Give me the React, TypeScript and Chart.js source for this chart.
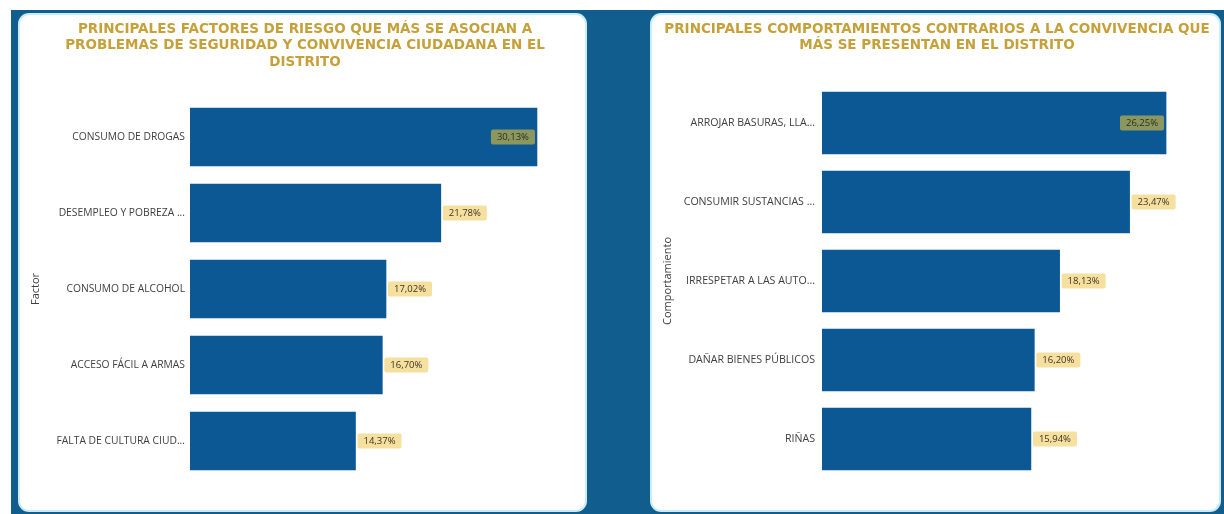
import React, { useEffect, useRef } from "react";
import { Chart, registerables } from "chart.js";

Chart.register(...registerables);

const factorLabels = [
  "CONSUMO DE DROGAS",
  "DESEMPLEO Y POBREZA ...",
  "CONSUMO DE ALCOHOL",
  "ACCESO FÁCIL A ARMAS",
  "FALTA DE CULTURA CIUD...",
];
const factorValues = [30.13, 21.78, 17.02, 16.7, 14.37];

const behaviourLabels = [
  "ARROJAR BASURAS, LLA...",
  "CONSUMIR SUSTANCIAS ...",
  "IRRESPETAR A LAS AUTO...",
  "DAÑAR BIENES PÚBLICOS",
  "RIÑAS",
];
const behaviourValues = [26.25, 23.47, 18.13, 16.2, 15.94];

const leftTitle = [
  "PRINCIPALES FACTORES DE RIESGO QUE MÁS SE ASOCIAN A",
  "PROBLEMAS DE SEGURIDAD Y CONVIVENCIA CIUDADANA EN EL",
  "DISTRITO",
];
const rightTitle = [
  "PRINCIPALES COMPORTAMIENTOS CONTRARIOS A LA CONVIVENCIA QUE",
  "MÁS SE PRESENTAN EN EL DISTRITO",
];

const BAR = "#0b5894";
const BG = "#115e8e";
const GOLD = "#c6a038";

const fmt = (v: number) => v.toFixed(2).replace(".", ",") + "%";

const labelPlugin = {
  id: "valueLabels",
  afterDatasetsDraw(chart: any) {
    const ctx = chart.ctx;
    const meta = chart.getDatasetMeta(0);
    const data = chart.data.datasets[0].data as number[];
    ctx.save();
    ctx.font = "9.5px 'Open Sans', sans-serif";
    ctx.textBaseline = "middle";
    meta.data.forEach((bar: any, i: number) => {
      const txt = fmt(data[i]);
      const w = ctx.measureText(txt).width + 12;
      const h = 15;
      let x = bar.x + 2;
      let inside = false;
      if (x + w > chart.width - 8) {
        x = bar.x - 2 - w;
        inside = true;
      }
      const y = bar.y - h / 2;
      ctx.fillStyle = inside ? "#8c9760" : "#f6e0a0";
      ctx.beginPath();
      (ctx as any).roundRect(x, y, w, h, 2);
      ctx.fill();
      ctx.fillStyle = inside ? "#2a2f1a" : "#3a3320";
      ctx.textAlign = "center";
      ctx.fillText(txt, x + w / 2, bar.y + 0.5);
    });
    ctx.restore();
  },
};

type Props = {
  labels: string[];
  values: number[];
  title: string[];
  axisTitle: string;
  max: number;
  barThickness: number;
  titleBottom: number;
  padBottom: number;
  padRight: number;
  tickSize: number;
  tickPad: number;
  width: number;
};

function BarPanel(p: Props) {
  const ref = useRef<HTMLCanvasElement>(null);
  useEffect(() => {
    const chart = new Chart(ref.current as HTMLCanvasElement, {
      type: "bar",
      data: {
        labels: p.labels,
        datasets: [
          {
            data: p.values,
            backgroundColor: BAR,
            barThickness: p.barThickness,
          },
        ],
      },
      plugins: [labelPlugin],
      options: {
        indexAxis: "y",
        animation: false,
        responsive: false,
        maintainAspectRatio: false,
        layout: { padding: { left: 8, right: p.padRight, top: 0, bottom: p.padBottom } },
        plugins: {
          legend: { display: false },
          tooltip: { enabled: false },
          title: {
            display: true,
            text: p.title,
            color: GOLD,
            font: { family: "'DejaVu Sans', Verdana, sans-serif", size: 13.5, weight: "bold", lineHeight: 16.5 / 13.5 },
            padding: { top: 6, bottom: p.titleBottom },
          },
        },
        scales: {
          x: {
            display: false,
            min: 0,
            max: p.max,
          },
          y: {
            grid: { display: false, drawTicks: false },
            border: { display: false },
            ticks: {
              color: "#404040",
              padding: p.tickPad,
              font: { family: "'Open Sans', sans-serif", size: p.tickSize },
            },
            title: {
              display: true,
              text: p.axisTitle,
              color: "#404040",
              padding: { top: 1, bottom: 0 },
              font: { family: "'Open Sans', sans-serif", size: 11 },
            },
            afterFit(scale: any) {
              scale.width = 162;
            },
          },
        },
      },
    } as any);
    return () => chart.destroy();
  }, []);
  return <canvas ref={ref} width={p.width} height={495} style={{ display: "block" }} />;
}

export default function App() {
  useEffect(() => {
    document.body.style.margin = "0";
  }, []);
  const panel: React.CSSProperties = {
    position: "absolute",
    top: 15,
    height: 495,
    background: "#fff",
    borderRadius: 9,
    boxShadow: "0 0 0 2px #c8ecf8",
    overflow: "hidden",
  };
  return (
    <div style={{ position: "fixed", left: 0, top: 0, width: 1224, height: 514, background: "#fff", overflow: "hidden" }}>
      <div style={{ position: "absolute", left: 11, top: 10, width: 1213, height: 504, background: BG }} />
      <div style={{ ...panel, left: 20, width: 565 }}>
        <BarPanel
          labels={factorLabels}
          values={factorValues}
          title={leftTitle}
          axisTitle="Factor"
          max={34.04}
          barThickness={58}
          titleBottom={28.5}
          padBottom={31}
          padRight={3}
          tickSize={10.3}
          tickPad={5}
          width={565}
        />
      </div>
      <div style={{ ...panel, left: 652, width: 567 }}>
        <BarPanel
          labels={behaviourLabels}
          values={behaviourValues}
          title={rightTitle}
          axisTitle="Comportamiento"
          max={29.91}
          barThickness={62}
          titleBottom={29.5}
          padBottom={31.5}
          padRight={5}
          tickSize={10.6}
          tickPad={7}
          width={567}
        />
      </div>
    </div>
  );
}
